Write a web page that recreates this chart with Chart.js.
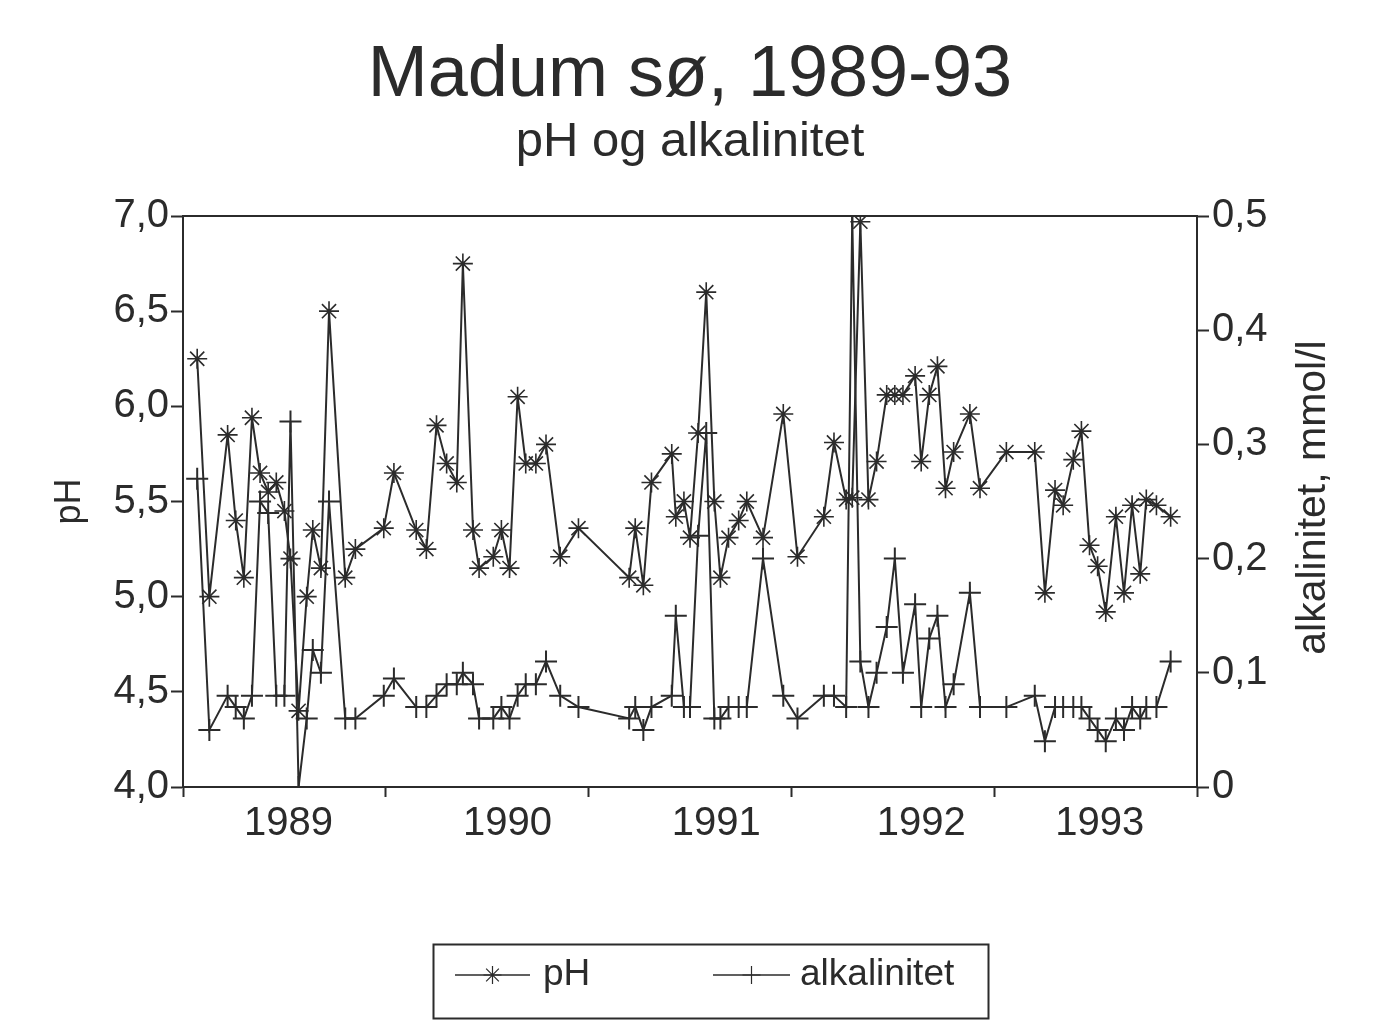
<!DOCTYPE html>
<html>
<head>
<meta charset="utf-8">
<title>Madum sø, 1989-93</title>
<script src="https://cdn.jsdelivr.net/npm/chart.js@4.4.1/dist/chart.umd.min.js"></script>
<style>
	html, body { margin: 0; padding: 0; background: #fff; }
	#wrap { position: relative; width: 1380px; height: 1031px; }
</style>
</head>
<body>
<div id="wrap"><canvas id="chart"></canvas></div>
<script>
// sampling dates, decimal years
const sampleDates = [
	1989.07, 1989.13, 1989.22, 1989.26, 1989.30, 1989.34, 1989.38, 1989.42, 1989.46, 1989.50,
	1989.53, 1989.57, 1989.61, 1989.64, 1989.68, 1989.72, 1989.80, 1989.85, 1989.99,
	1990.04, 1990.15, 1990.20, 1990.25, 1990.30, 1990.35, 1990.38, 1990.43, 1990.46, 1990.53,
	1990.57, 1990.61, 1990.65, 1990.69, 1990.74, 1990.79, 1990.86, 1990.95,
	1991.20, 1991.23, 1991.27, 1991.31, 1991.41, 1991.43, 1991.47, 1991.50, 1991.54, 1991.58,
	1991.62, 1991.65, 1991.69, 1991.74, 1991.78, 1991.86, 1991.96, 1992.03,
	1992.16, 1992.21, 1992.27, 1992.30, 1992.34, 1992.38, 1992.42, 1992.47, 1992.51, 1992.55,
	1992.61, 1992.64, 1992.68, 1992.72, 1992.76, 1992.80, 1992.88, 1992.93,
	1993.06, 1993.20, 1993.25, 1993.30, 1993.34, 1993.39, 1993.43, 1993.47, 1993.51, 1993.55,
	1993.60, 1993.64, 1993.68, 1993.72, 1993.75, 1993.80, 1993.87
];

const phValues = [
	6.25, 5.00, 5.85, 5.40, 5.10, 5.94, 5.65, 5.55, 5.60, 5.45,
	5.20, 4.40, 5.00, 5.35, 5.15, 6.50, 5.10, 5.25, 5.36,
	5.65, 5.35, 5.25, 5.90, 5.70, 5.60, 6.75, 5.35, 5.15, 5.21,
	5.35, 5.15, 6.05, 5.70, 5.70, 5.80, 5.21, 5.36,
	5.10, 5.36, 5.06, 5.60, 5.75, 5.42, 5.50, 5.31, 5.86, 6.60,
	5.50, 5.10, 5.31, 5.40, 5.50, 5.31, 5.96, 5.21,
	5.42, 5.81, 5.51, 5.52, 6.97, 5.51, 5.71, 6.06, 6.06, 6.06,
	6.16, 5.71, 6.06, 6.21, 5.57, 5.76, 5.96, 5.57,
	5.76, 5.76, 5.02, 5.56, 5.48, 5.72, 5.87, 5.27, 5.16, 4.92,
	5.42, 5.02, 5.48, 5.12, 5.51, 5.48, 5.42
];

// mmol/l
const alkValues = [
	0.27, 0.05, 0.08, 0.07, 0.06, 0.08, 0.25, 0.24, 0.08, 0.08,
	0.32, 0.00, 0.06, 0.12, 0.10, 0.25, 0.06, 0.06, 0.08,
	0.095, 0.07, 0.07, 0.08, 0.09, 0.09, 0.10, 0.09, 0.06, 0.06,
	0.07, 0.06, 0.08, 0.09, 0.09, 0.11, 0.08, 0.07,
	0.06, 0.07, 0.05, 0.07, 0.08, 0.15, 0.07, 0.07, 0.22, 0.31,
	0.06, 0.06, 0.07, 0.07, 0.07, 0.20, 0.08, 0.06,
	0.08, 0.08, 0.07, 0.50, 0.11, 0.07, 0.10, 0.14, 0.20, 0.10,
	0.16, 0.07, 0.13, 0.15, 0.07, 0.09, 0.17, 0.07,
	0.07, 0.08, 0.04, 0.07, 0.07, 0.07, 0.07, 0.06, 0.05, 0.04,
	0.06, 0.05, 0.07, 0.06, 0.07, 0.07, 0.11
];

const yearTicks = [1989, 1990, 1991, 1992, 1993, 1994];
const yearLabels = ["1989", "1990", "1991", "1992", "1993"];
const yearLabelPos = [1989.52, 1990.60, 1991.63, 1992.64, 1993.52];

const INK = "#2b2b2b";
const FONT = "'Liberation Sans', Arial, Helvetica, sans-serif";

Chart.defaults.font.family = FONT;
Chart.defaults.color = INK;

function comma(v) {
	return v === 0 ? "0" : v.toFixed(1).replace(".", ",");
}

// top edge of the plot box + right axis title (reads upward like the left one)
const frame = {
	id: "frame",
	afterDraw(chart) {
		const {ctx, chartArea} = chart;
		ctx.save();
		ctx.strokeStyle = INK;
		ctx.lineWidth = 2;
		ctx.beginPath();
		ctx.moveTo(chartArea.left, chartArea.top);
		ctx.lineTo(chartArea.right, chartArea.top);
		ctx.stroke();

		ctx.fillStyle = INK;
		ctx.font = "41px " + FONT;
		ctx.textAlign = "center";
		ctx.textBaseline = "middle";
		ctx.translate(1314, (chartArea.top + chartArea.bottom) / 2 - 4);
		ctx.rotate(-Math.PI / 2);
		ctx.fillText("alkalinitet, mmol/l", 0, 0);
		ctx.restore();
	}
};

// boxed legend with line + marker samples
const boxLegend = {
	id: "boxLegend",
	afterDraw(chart) {
		const ctx = chart.ctx;
		const sets = chart.data.datasets;
		const slots = [{x0: 455, x1: 530, tx: 543}, {x0: 713, x1: 790, tx: 800}];
		const y = 975;
		ctx.save();
		ctx.strokeStyle = INK;
		ctx.lineWidth = 2;
		ctx.strokeRect(433.5, 944.5, 555, 74);
		sets.forEach((ds, i) => {
			const s = slots[i];
			ctx.strokeStyle = INK;
			ctx.fillStyle = INK;
			ctx.lineWidth = 1.5;
			ctx.beginPath();
			ctx.moveTo(s.x0, y);
			ctx.lineTo(s.x1, y);
			ctx.stroke();
			ctx.lineWidth = 1.2;
			Chart.helpers.drawPoint(ctx, {pointStyle: ds.pointStyle, radius: 9, borderWidth: 1.2, rotation: 0}, (s.x0 + s.x1) / 2, y);
			ctx.font = "37px " + FONT;
			ctx.textAlign = "left";
			ctx.textBaseline = "middle";
			ctx.fillText(ds.label, s.tx, y);
		});
		ctx.restore();
	}
};

new Chart(document.getElementById("chart"), {
	type: "line",
	data: {
		datasets: [{
			label: "pH",
			data: sampleDates.map((d, i) => ({x: d, y: phValues[i]})),
			yAxisID: "y",
			borderColor: INK,
			backgroundColor: INK,
			borderWidth: 2,
			pointStyle: "star",
			pointRadius: 10,
			pointBorderWidth: 1.6,
			pointBorderColor: INK,
			tension: 0
		}, {
			label: "alkalinitet",
			data: sampleDates.map((d, i) => ({x: d, y: alkValues[i]})),
			yAxisID: "y2",
			borderColor: INK,
			backgroundColor: INK,
			borderWidth: 2,
			pointStyle: "cross",
			pointRadius: 11,
			pointBorderWidth: 2,
			pointBorderColor: INK,
			tension: 0
		}]
	},
	options: {
		responsive: true,
		maintainAspectRatio: false,
		animation: false,
		layout: {padding: 0},
		plugins: {
			legend: {display: false},
			tooltip: {enabled: false},
			title: {
				display: true,
				text: "Madum sø, 1989-93",
				color: INK,
				font: {size: 72, weight: "normal", lineHeight: 1},
				padding: {top: 40, bottom: 0}
			},
			subtitle: {
				display: true,
				text: "pH og alkalinitet",
				color: INK,
				font: {size: 49, weight: "normal", lineHeight: 1},
				padding: {top: 6, bottom: 49}
			}
		},
		scales: {
			x: {
				type: "linear",
				min: 1989,
				max: 1994,
				afterBuildTicks: (scale) => {
					scale.ticks = [...yearTicks, ...yearLabelPos].sort((a, b) => a - b).map(v => ({value: v}));
				},
				afterFit: (scale) => { scale.height = 244; },
				ticks: {
					autoSkip: false,
					maxRotation: 0,
					padding: 3,
					color: INK,
					font: {size: 40},
					callback: (v) => {
						const i = yearLabelPos.indexOf(v);
						return i >= 0 ? yearLabels[i] : "";
					}
				},
				grid: {
					drawOnChartArea: false,
					tickLength: 10,
					tickWidth: 2,
					tickColor: (c) => yearTicks.includes(c.tick.value) ? INK : "rgba(0,0,0,0)"
				},
				border: {display: true, color: INK, width: 2}
			},
			y: {
				position: "left",
				min: 4,
				max: 7,
				afterFit: (scale) => { scale.width = 183; },
				ticks: {
					stepSize: 0.5,
					padding: 2,
					color: INK,
					font: {size: 40},
					callback: (v) => comma(v)
				},
				grid: {drawOnChartArea: false, tickLength: 12, tickWidth: 2, tickColor: INK},
				border: {display: true, color: INK, width: 2},
				title: {
					display: true,
					text: "pH",
					color: INK,
					font: {size: 36},
					padding: {top: 48, bottom: 0}
				}
			},
			y2: {
				position: "right",
				min: 0,
				max: 0.5,
				afterFit: (scale) => { scale.width = 183; },
				ticks: {
					stepSize: 0.1,
					padding: 3,
					color: INK,
					font: {size: 40},
					callback: (v) => comma(v)
				},
				grid: {drawOnChartArea: false, tickLength: 12, tickWidth: 2, tickColor: INK},
				border: {display: true, color: INK, width: 2}
			}
		}
	},
	plugins: [frame, boxLegend]
});
</script>
</body>
</html>
